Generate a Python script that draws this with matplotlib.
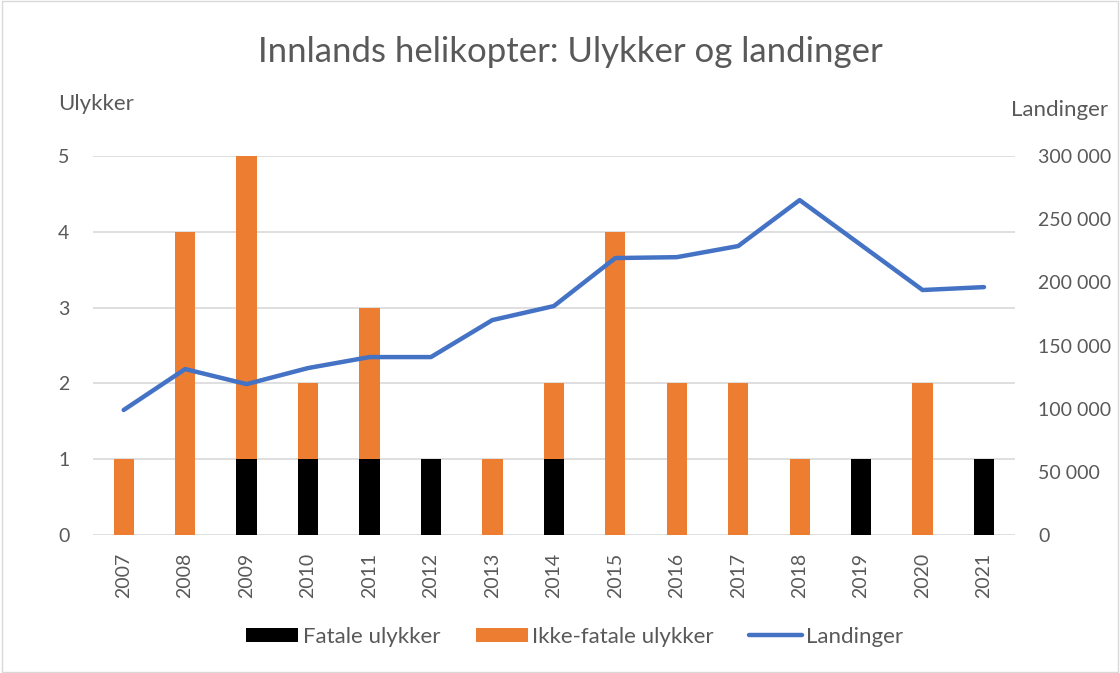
import matplotlib
matplotlib.use("Agg")
import matplotlib.pyplot as plt
from matplotlib.patches import Rectangle

plt.rcParams['font.family'] = ['Lato', 'DejaVu Sans']

# data
aar = ['2007', '2008', '2009', '2010', '2011', '2012', '2013', '2014',
       '2015', '2016', '2017', '2018', '2019', '2020', '2021']
fatale = [0, 0, 1, 1, 1, 1, 0, 1, 0, 0, 0, 0, 1, 0, 1]
ikke_fatale = [1, 4, 4, 1, 2, 0, 1, 1, 4, 2, 2, 1, 0, 2, 0]
landinger = [99000, 131400, 119500, 132200, 140900, 140900, 170200, 181300,
             219300, 220000, 228800, 265200, 229600, 194000, 196300]

grey = '#595959'
orange = '#ED7D31'
blue = '#4472C4'

fig = plt.figure(figsize=(11.2, 6.73), dpi=100)
ax = fig.add_axes([0.083, 0.205, 0.823, 0.563])
ax2 = ax.twinx()

x = range(len(aar))
b1 = ax.bar(x, fatale, width=0.33, color='black', label='Fatale ulykker', zorder=3)
b2 = ax.bar(x, ikke_fatale, width=0.33, bottom=fatale, color=orange,
            label='Ikke-fatale ulykker', zorder=3)
l1, = ax2.plot(x, landinger, color=blue, lw=3.2, solid_capstyle='round',
               label='Landinger', zorder=4)

ax.set_xlim(-0.5, len(aar) - 0.5)
ax.set_ylim(0, 5)
ax2.set_ylim(0, 300000)
ax.set_yticks(range(6))
ax2.set_yticks(range(0, 300001, 50000))
ax2.set_yticklabels(['0' if v == 0 else f'{v // 1000} 000' for v in range(0, 300001, 50000)])
ax.set_xticks(list(x))
ax.set_xticklabels(aar, rotation=90)

ax.grid(axis='y', color='#D9D9D9', lw=1.2, zorder=0)
for a in (ax, ax2):
    for s in a.spines.values():
        s.set_visible(False)
    a.tick_params(length=0, colors=grey, labelsize=14)
ax.tick_params(axis='y', pad=17)
ax2.tick_params(axis='y', pad=17)
ax.tick_params(axis='x', pad=13)
ax2.set_zorder(ax.get_zorder() + 1)
ax2.patch.set_visible(False)

fig.text(0.509, 0.922, 'Innlands helikopter: Ulykker og landinger', ha='center',
         va='center', fontsize=25, color=grey)
fig.text(0.052, 0.845, 'Ulykker', ha='left', va='center', fontsize=16, color=grey)
fig.text(0.903, 0.837, 'Landinger', ha='left', va='center', fontsize=16, color=grey)

fig.legend([b1, b2, l1], ['Fatale ulykker', 'Ikke-fatale ulykker', 'Landinger'],
           loc='center', bbox_to_anchor=(0.513, 0.054), ncol=3, frameon=False,
           fontsize=16, labelcolor=grey, handlelength=2.35, handleheight=0.6,
           handletextpad=0.2, columnspacing=1.6)

fig.patches.append(Rectangle((0.002, 0.002), 0.996, 0.996, transform=fig.transFigure,
                             fill=False, edgecolor='#D9D9D9', lw=1))

fig.savefig('out.png', dpi=100)
